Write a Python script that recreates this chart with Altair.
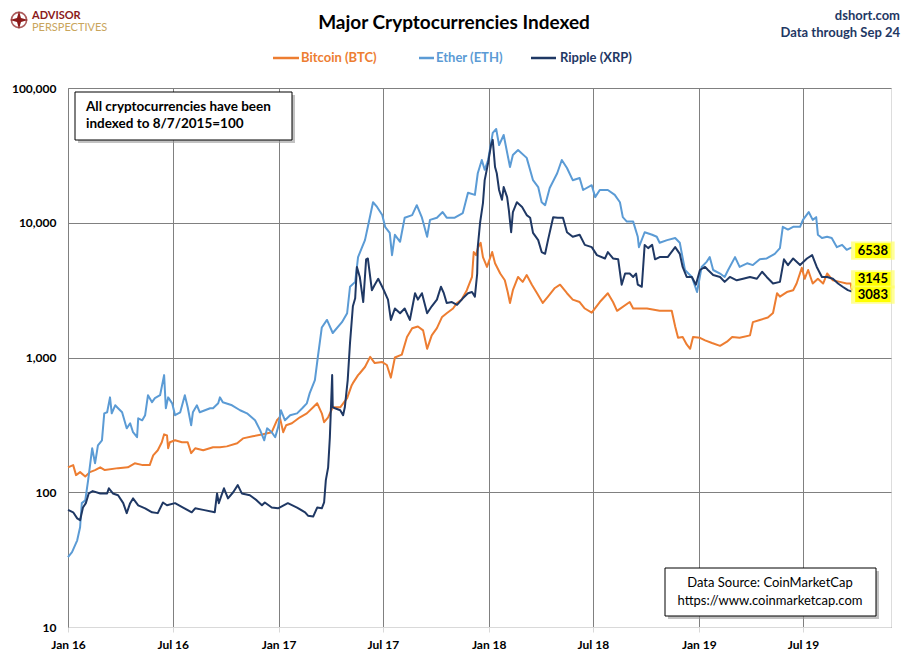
import altair as alt
import pandas as pd

# ---------------- data (days since 2016-01-01, index value) ----------------
eth_days = [0, 7, 16, 21, 24, 30, 35, 42, 47, 52, 59, 63, 68, 73, 76, 82, 87, 94, 102, 108, 113, 120, 122, 129, 134, 139,
            146, 151, 160, 167, 170, 174, 181, 186, 195, 203, 208, 214, 217, 224, 229, 247, 252, 261, 264, 269, 285, 299,
            311, 325, 334, 341, 346, 354, 360, 365, 370, 377, 386, 398, 407, 415, 420, 429, 434, 441, 450, 460, 476, 485,
            490, 499, 504, 511, 516, 521, 530, 537, 546, 551, 559, 563, 568, 577, 585, 598, 606, 615, 624, 629, 641, 651,
            658, 672, 686, 695, 707, 712, 719, 724, 730, 738, 744, 749, 757, 768, 773, 782, 797, 808, 817, 823, 829, 837,
            850, 858, 867, 877, 889, 895, 910, 916, 924, 938, 950, 959, 964, 971, 982, 990, 992, 1002, 1015, 1023, 1028,
            1041, 1055, 1063, 1072, 1084, 1093, 1101, 1110, 1115, 1121, 1133, 1141, 1147, 1159, 1167, 1180, 1190, 1202,
            1214, 1228, 1237, 1242, 1251, 1260, 1272, 1277, 1287, 1294, 1300, 1303, 1310, 1319, 1327, 1336, 1345, 1353,
            1359, 1362]
eth_vals = [33, 36, 44, 55, 83, 87, 123, 212, 164, 223, 243, 385, 392, 506, 385, 442, 420, 392, 298, 325, 279, 256, 354,
            342, 373, 525, 466, 499, 525, 740, 420, 506, 457, 373, 392, 525, 427, 314, 392, 442, 392, 420, 420, 457, 506,
            466, 442, 406, 385, 342, 288, 243, 298, 279, 256, 303, 406, 342, 373, 385, 420, 457, 544, 680, 1000, 1670,
            1900, 1520, 1830, 2130, 3350, 3640, 5560, 6590, 7430, 9330, 14200, 13100, 11400, 9330, 8420, 5750, 8140,
            7220, 10900, 11400, 13500, 10900, 7870, 10500, 10900, 12000, 10900, 10900, 11800, 16700, 16100, 23300,
            29200, 24700, 29200, 46400, 49600, 37700, 44800, 25900, 31800, 34700, 30300, 20700, 18400, 14200, 13500,
            18100, 23300, 29200, 25500, 20700, 21500, 17500, 19000, 15500, 17500, 17500, 16100, 14200, 11000, 10200,
            10200, 7870, 6590, 8500, 8140, 7870, 7100, 7430, 7700, 7100, 4460, 3960, 3060, 4700, 5150, 5560, 4460, 4200,
            3960, 4460, 5560, 4700, 5000, 4850, 5350, 5430, 5880, 6480, 9330, 8900, 9330, 9330, 10500, 12000, 10500,
            11000, 8140, 7700, 7870, 7700, 6590, 6850, 6300, 6480, 6538]

btc_days = [0, 9, 14, 21, 30, 38, 47, 56, 64, 87, 104, 116, 130, 142, 148, 156, 163, 167, 172, 174, 177, 186, 198, 208,
            214, 221, 235, 252, 264, 276, 294, 304, 321, 339, 354, 363, 368, 374, 379, 389, 403, 415, 426, 433, 441, 445,
            452, 460, 473, 485, 493, 495, 504, 507, 516, 525, 533, 546, 554, 561, 568, 580, 589, 598, 608, 617, 624, 632,
            641, 650, 658, 669, 676, 684, 693, 702, 705, 709, 712, 717, 721, 728, 737, 742, 751, 759, 764, 768, 773, 782,
            790, 797, 806, 815, 825, 834, 846, 855, 867, 877, 889, 898, 910, 924, 938, 947, 954, 976, 982, 1006, 1028,
            1049, 1055, 1060, 1068, 1075, 1081, 1086, 1098, 1107, 1119, 1133, 1145, 1154, 1167, 1185, 1190, 1202, 1216,
            1225, 1232, 1237, 1249, 1260, 1266, 1275, 1280, 1286, 1294, 1303, 1312, 1319, 1329, 1341, 1353, 1360, 1362]
btc_vals = [153, 159, 134, 141, 131, 141, 146, 153, 146, 151, 153, 164, 159, 159, 188, 205, 235, 269, 264, 212, 235, 243,
            235, 235, 195, 212, 205, 216, 216, 219, 231, 251, 260, 269, 279, 342, 360, 279, 314, 325, 360, 385, 427, 457,
            385, 331, 360, 427, 427, 499, 623, 645, 740, 764, 850, 1010, 909, 925, 880, 709, 1000, 1050, 1420, 1650,
            1700, 1590, 1160, 1460, 1650, 2000, 2130, 2310, 2540, 2690, 3160, 3960, 6060, 5750, 6480, 7100, 5560, 4700,
            6060, 5000, 4200, 3740, 3060, 2540, 3160, 3960, 3640, 4090, 3470, 3000, 2540, 2830, 3280, 3470, 3000, 2690,
            2580, 2310, 2150, 2580, 3000, 2580, 2220, 2580, 2310, 2310, 2220, 2220, 1700, 1400, 1420, 1250, 1160, 1420,
            1400, 1340, 1280, 1220, 1310, 1420, 1400, 1460, 1830, 1900, 1980, 2140, 3000, 2830, 3060, 3160, 3540, 4630,
            3840, 4460, 3540, 3840, 3540, 4200, 3740, 3640, 3540, 3540, 3145]

xrp_days = [0, 9, 16, 21, 26, 31, 36, 43, 56, 68, 71, 78, 87, 96, 102, 108, 113, 122, 134, 146, 156, 165, 172, 186, 200,
            215, 221, 235, 255, 259, 262, 271, 278, 287, 295, 302, 316, 328, 337, 342, 354, 365, 382, 398, 412, 417, 426,
            433, 441, 445, 448, 452, 455, 459, 460, 464, 473, 478, 481, 486, 490, 495, 499, 502, 507, 513, 518, 521, 528,
            533, 539, 547, 556, 561, 568, 577, 585, 594, 603, 608, 615, 624, 632, 641, 648, 653, 658, 667, 676, 686, 695,
            702, 707, 711, 712, 716, 721, 724, 730, 735, 738, 742, 745, 749, 754, 757, 763, 766, 770, 773, 780, 789, 797,
            803, 808, 817, 823, 829, 834, 843, 851, 860, 867, 877, 889, 898, 910, 919, 933, 938, 947, 956, 962, 968, 976,
            982, 987, 990, 997, 1002, 1008, 1015, 1020, 1028, 1042, 1055, 1063, 1068, 1075, 1084, 1091, 1098, 1107, 1112,
            1121, 1133, 1141, 1150, 1162, 1173, 1185, 1197, 1206, 1214, 1225, 1237, 1244, 1251, 1260, 1272, 1284, 1293,
            1301, 1310, 1319, 1329, 1338, 1346, 1355, 1362]
xrp_vals = [74, 71, 64, 62, 77, 83, 98, 102, 98, 98, 107, 98, 95, 83, 70, 83, 90, 80, 76, 71, 70, 84, 80, 83, 77, 71, 76,
            74, 71, 98, 83, 107, 90, 100, 113, 98, 95, 87, 80, 84, 77, 76, 83, 77, 71, 67, 66, 77, 76, 84, 123, 153, 256,
            740, 427, 420, 406, 373, 427, 680, 1280, 2400, 2750, 4700, 3960, 2580, 5350, 5430, 3160, 3470, 3840, 3280,
            2690, 1900, 2310, 2130, 2310, 1900, 3000, 2690, 3000, 2130, 2400, 2690, 3350, 3000, 2540, 2580, 2460, 2750,
            3000, 3060, 2830, 4200, 6590, 10000, 14000, 20700, 27800, 37700, 41200, 25900, 23300, 17500, 14800, 18400,
            15500, 12400, 8500, 12000, 14200, 13100, 11400, 10900, 8420, 7430, 6060, 5880, 7430, 11000, 10900, 10900,
            8500, 7870, 8140, 6850, 6590, 5750, 5430, 6060, 5430, 5350, 3470, 4200, 4200, 3960, 4200, 3470, 3350, 6850,
            6480, 6850, 5350, 5560, 5560, 6590, 5880, 4700, 3960, 3960, 3470, 4460, 4700, 4460, 4090, 3960, 3640, 3960,
            3740, 3840, 3960, 3840, 4330, 3960, 3540, 3640, 5350, 4850, 5430, 4850, 5430, 5750, 4700, 3960, 3960, 3840,
            3540, 3350, 3160, 3083]

series_names = ["Bitcoin (BTC)", "Ether (ETH)", "Ripple (XRP)"]
series_colors = ["#ED7D31", "#5B9BD5", "#1F3864"]
y_ticks = [10, 100, 1000, 10000, 100000]
x_tick_months = [(2016, 1), (2016, 7), (2017, 1), (2017, 7), (2018, 1), (2018, 7), (2019, 1), (2019, 7)]

start = pd.Timestamp("2016-01-01")


def frame(days, vals, name):
    return pd.DataFrame({
        "date": start + pd.to_timedelta(days, unit="D"),
        "value": vals,
        "series": name,
    })


df = pd.concat([
    frame(btc_days, btc_vals, series_names[0]),
    frame(eth_days, eth_vals, series_names[1]),
    frame(xrp_days, xrp_vals, series_names[2]),
], ignore_index=True)

last = df.sort_values("date").groupby("series").tail(1)

FONT = "Lato"
GRID = "#808080"

x_enc = alt.X(
    "date:T",
    scale=alt.Scale(domain=[alt.DateTime(year=2016, month=1, date=1), alt.DateTime(year=2019, month=12, date=1)]),
    axis=alt.Axis(
        values=[alt.DateTime(year=y, month=m, date=1) for y, m in x_tick_months],
        format="%b %y", title=None, labelFont=FONT, labelFontWeight="bold", labelFontSize=12,
        labelColor="black", grid=True, gridColor=GRID, gridWidth=1, domainColor="#D9D9D9",
        tickColor="#D9D9D9", tickSize=5, labelPadding=7, labelFlush=False,
    ),
)
y_enc = alt.Y(
    "value:Q",
    scale=alt.Scale(type="log", domain=[10, 100000]),
    axis=alt.Axis(
        values=y_ticks, format=",", title=None, labelFont=FONT, labelFontWeight="bold", labelFontSize=12,
        labelColor="black", grid=True, gridColor=GRID, gridWidth=1, domainColor=GRID, ticks=False,
        labelPadding=12,
    ),
)
color_enc = alt.Color("series:N", scale=alt.Scale(domain=series_names, range=series_colors), legend=None)

lines = []
for name in [series_names[0], series_names[1], series_names[2]]:
    lines.append(
        alt.Chart(df).transform_filter(alt.datum.series == name)
        .mark_line(strokeWidth=2, strokeJoin="round")
        .encode(x=x_enc, y=y_enc, color=color_enc)
    )

one = pd.DataFrame({"k": [0]})


def txt(text, x, y, **kw):
    return alt.Chart(one).mark_text(text=text, font=FONT, **kw).encode(x=alt.value(x), y=alt.value(y))


def box(x1, x2, y1, y2, **kw):
    return alt.Chart(one).mark_rect(**kw).encode(
        x=alt.value(x1), x2=alt.value(x2), y=alt.value(y1), y2=alt.value(y2))


def hline(x1, x2, y, color):
    return alt.Chart(one).mark_rule(strokeWidth=2.5, color=color).encode(
        x=alt.value(x1), x2=alt.value(x2), y=alt.value(y))


# end-of-line highlighted labels
label_offsets = {series_names[1]: 3, series_names[0]: -11, series_names[2]: 3}
BOX = "M-1,-0.42H1V0.42H-1Z"
end_layers = []
for name, dy in label_offsets.items():
    d = last[last["series"] == name]
    end_layers.append(
        alt.Chart(d).mark_point(shape=BOX, filled=True, color="#FFFF66", opacity=0.7, size=1900,
                                xOffset=21, yOffset=dy)
        .encode(x="date:T", y="value:Q")
    )
    end_layers.append(
        alt.Chart(d).mark_point(shape=BOX, filled=True, color="#FFFF00", opacity=1, size=1250,
                                xOffset=21, yOffset=dy)
        .encode(x="date:T", y="value:Q")
    )
    end_layers.append(
        alt.Chart(d).mark_text(font=FONT, fontWeight="bold", fontSize=13, color="black", dx=21, dy=dy)
        .encode(x="date:T", y="value:Q", text=alt.Text("value:Q", format="d"))
    )

decor = [
    # logo
    alt.Chart(one).mark_point(shape="circle", size=230, color="#8B1A1A", strokeWidth=1.6, filled=False)
    .encode(x=alt.value(-49), y=alt.value(-68)),
    alt.Chart(one).mark_point(shape="M0,-1L0.22,-0.22L1,0L0.22,0.22L0,1L-0.22,0.22L-1,0L-0.22,-0.22Z",
                              size=330, color="#8B1A1A", filled=True, opacity=1)
    .encode(x=alt.value(-49), y=alt.value(-68)),
    txt("ADVISOR", -36, -72, align="left", baseline="middle", fontSize=11, fontWeight="bold", color="#8B1A1A"),
    txt("PERSPECTIVES", -36, -60, align="left", baseline="middle", fontSize=11, fontWeight="normal",
        color="#C9A55C"),
    # title
    txt("Major Cryptocurrencies  Indexed", 386, -65, align="center", baseline="middle", fontSize=19,
        fontWeight="bold", color="black"),
    txt("dshort.com", 832, -72, align="right", baseline="middle", fontSize=13, fontWeight="bold",
        color="#1F3864"),
    txt("Data through Sep 24", 832, -55, align="right", baseline="middle", fontSize=13, fontWeight="bold",
        color="#1F3864"),
    # legend
    hline(205, 231, -30, series_colors[0]),
    txt(series_names[0], 233, -30, align="left", baseline="middle", fontSize=13, fontWeight="bold",
        color=series_colors[0]),
    hline(351, 366, -30, series_colors[1]),
    txt(series_names[1], 368, -30, align="left", baseline="middle", fontSize=13, fontWeight="bold",
        color=series_colors[1]),
    hline(463, 488, -30, series_colors[2]),
    txt(series_names[2], 492, -30, align="left", baseline="middle", fontSize=13, fontWeight="bold",
        color=series_colors[2]),
    # note box
    box(10, 227, 7, 55, color="#9A9A9A", opacity=0.6),
    box(7, 224, 4, 52, fill="white", stroke="black", strokeWidth=1),
    txt(["All cryptocurrencies have been", "indexed to 8/7/2015=100"], 18, 19, align="left", baseline="middle",
        fontSize=13.5, fontWeight="bold", color="black", lineHeight=17),
    # source box
    box(600, 811, 483, 531, color="#9A9A9A", opacity=0.6),
    box(597, 808, 480, 528, fill="white", stroke="black", strokeWidth=1),
    txt(["Data Source: CoinMarketCap", "https://www.coinmarketcap.com"], 702, 495, align="center",
        baseline="middle", fontSize=13, fontWeight="normal", color="black", lineHeight=18),
]

chart = alt.layer(*lines, *end_layers, *decor).properties(
    width=823, height=539,
    autosize=alt.AutoSizeParams(type="none"),
    padding={"left": 60, "top": 80, "right": 10, "bottom": 26},
).configure_view(stroke=None).configure(background="white")

chart.save("out.html", embed_options={"renderer": "svg", "actions": False})
